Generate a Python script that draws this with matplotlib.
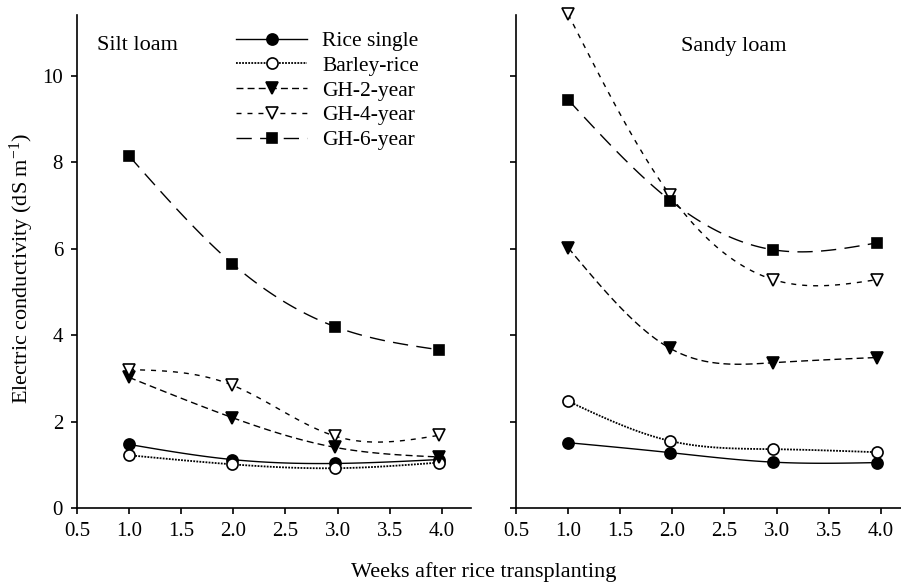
import numpy as np
import matplotlib
matplotlib.use("Agg")
import matplotlib.pyplot as plt

plt.rcParams['font.family'] = ['Liberation Serif', 'DejaVu Serif']
plt.rcParams['mathtext.fontset'] = 'custom'
plt.rcParams['mathtext.rm'] = 'Liberation Serif'
plt.rcParams['mathtext.it'] = 'Liberation Serif:italic'

# weeks after transplanting (as placed on the chart)
weeks_silt = [1.0, 1.99, 2.98, 3.97]
weeks_sandy = [1.0, 1.98, 2.97, 3.96]

series = ["Rice single", "Barley-rice", "GH-2-year", "GH-4-year", "GH-6-year"]

# Silt loam
silt_rice = [1.47, 1.12, 1.03, 1.12]
silt_barley = [1.22, 1.01, 0.92, 1.05]
silt_gh2 = [3.02, 2.09, 1.40, 1.18]
silt_gh4 = [3.20, 2.84, 1.66, 1.68]
silt_gh6 = [8.14, 5.65, 4.19, 3.66]

# Sandy loam
sandy_rice = [1.51, 1.28, 1.06, 1.05]
sandy_barley = [2.47, 1.55, 1.36, 1.29]
sandy_gh2 = [6.02, 3.69, 3.36, 3.48]
sandy_gh4 = [11.42, 7.23, 5.28, 5.28]
sandy_gh6 = [9.44, 7.11, 5.97, 6.13]

styles = [
    dict(ls='-', marker='o', mfc='black', dashes=None, lw=1.0),
    dict(ls=':', marker='o', mfc='white', dashes=(1.0, 0.7), lw=1.3),
    dict(ls='--', marker='v', mfc='black', dashes=(5, 3), lw=1.0),
    dict(ls='--', marker='v', mfc='white', dashes=(3.6, 4.3), lw=1.0),
    dict(ls='--', marker='s', mfc='black', dashes=(11, 6), lw=1.0),
]


def spline(x, y, n=80):
    # natural cubic spline through the points (SigmaPlot-style smoothing)
    x = np.asarray(x, float)
    y = np.asarray(y, float)
    m = len(x)
    h = np.diff(x)
    A = np.zeros((m, m))
    b = np.zeros(m)
    A[0, 0] = A[-1, -1] = 1
    for i in range(1, m - 1):
        A[i, i - 1] = h[i - 1]
        A[i, i] = 2 * (h[i - 1] + h[i])
        A[i, i + 1] = h[i]
        b[i] = 6 * ((y[i + 1] - y[i]) / h[i] - (y[i] - y[i - 1]) / h[i - 1])
    M = np.linalg.solve(A, b)
    xs = np.linspace(x[0], x[-1], n)
    idx = np.clip(np.searchsorted(x, xs) - 1, 0, m - 2)
    x0, x1 = x[idx], x[idx + 1]
    hh = x1 - x0
    t0, t1 = x1 - xs, xs - x0
    ys = (M[idx] * t0 ** 3 + M[idx + 1] * t1 ** 3) / (6 * hh) \
        + (y[idx] / hh - M[idx] * hh / 6) * t0 \
        + (y[idx + 1] / hh - M[idx + 1] * hh / 6) * t1
    return xs, ys


fig = plt.figure(figsize=(9.01, 5.86), dpi=100)
W, H = 901, 586
ax1 = fig.add_axes([77 / W, 78 / H, 394 / W, 493 / H])
ax2 = fig.add_axes([516 / W, 78 / H, 394 / W, 493 / H])

panels = [
    (ax1, weeks_silt, [silt_rice, silt_barley, silt_gh2, silt_gh4, silt_gh6]),
    (ax2, weeks_sandy, [sandy_rice, sandy_barley, sandy_gh2, sandy_gh4, sandy_gh6]),
]

for ax, wk, data in panels:
    for name, vals, st in zip(series, data, styles):
        xs, ys = spline(wk, vals)
        line, = ax.plot(xs, ys, color='black', lw=st['lw'], ls=st['ls'])
        if st['dashes'] is not None:
            line.set_dashes(st['dashes'])
        ax.plot(wk, vals, ls='none', marker=st['marker'], ms=8 if st['marker'] != 's' else 7.5,
                mfc=st['mfc'], mec='black', mew=1.2, clip_on=False)
    ax.set_xlim(0.5, 4.28)
    ax.set_ylim(0, 11.4)
    ax.set_xticks(np.arange(0.5, 4.01, 0.5))
    ax.set_xticklabels([f"{v:.1f}" for v in np.arange(0.5, 4.01, 0.5)])
    ax.set_yticks([0, 2, 4, 6, 8, 10])
    for s in ['top', 'right']:
        ax.spines[s].set_visible(False)
    for s in ['left', 'bottom']:
        ax.spines[s].set_linewidth(1.2)
    ax.tick_params(direction='out', length=4, width=1.2, labelsize=15, pad=6)

ax2.tick_params(axis='y', labelleft=False)

ax1.text((97 - 77) / 394, 1 - 30 / 493, "Silt loam", transform=ax1.transAxes, fontsize=16,
         va='center', ha='left')
ax2.text((681 - 516) / 394, 1 - 32 / 493, "Sandy loam", transform=ax2.transAxes, fontsize=16,
         va='center', ha='left')

# legend handles
handles = []
for st in styles:
    h, = ax1.plot([], [], color='black', lw=st['lw'], ls=st['ls'], marker=st['marker'],
                  ms=8 if st['marker'] != 's' else 7.5, mfc=st['mfc'], mec='black', mew=1.2)
    if st['dashes'] is not None:
        h.set_dashes(st['dashes'])
    handles.append(h)
ax1.legend(handles, series, loc='upper left', bbox_to_anchor=((236 - 77) / 394, 1 - 16 / 493),
           frameon=False, fontsize=15.5, handlelength=3.3, handletextpad=0.7,
           labelspacing=0.22, borderaxespad=0, borderpad=0)

fig.text(22 / W, 1 - 268 / H, r"Electric conductivity (dS m$^{-1}$)", rotation=90,
         fontsize=16, ha='center', va='center')
fig.text(484 / W, 1 - 572 / H, "Weeks after rice transplanting", fontsize=16,
         ha='center', va='center')

fig.savefig("out.png", dpi=100)
